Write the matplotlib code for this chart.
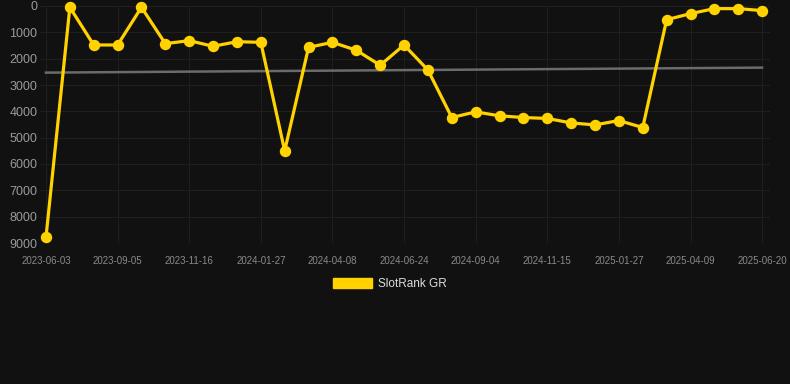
import numpy as np
import matplotlib
matplotlib.use('Agg')
import matplotlib.pyplot as plt
from matplotlib.patches import Patch

##rank values, one per point (lower is better, axis inverted)
rank = [8790, 50, 1480, 1480, 50, 1430, 1315, 1530, 1355, 1380,
        5500, 1570, 1380, 1680, 2250, 1480, 2430, 4235, 4020, 4170,
        4235, 4270, 4440, 4515, 4350, 4615, 520, 290, 100, 100, 175]
##labels shown under every third point
tick_labels = ['2023-06-03', '2023-09-05', '2023-11-16', '2024-01-27',
               '2024-04-08', '2024-06-24', '2024-09-04', '2024-11-15',
               '2025-01-27', '2025-04-09', '2025-06-20']
trend_start = 2530
trend_end = 2340
series_name = 'SlotRank GR'

plt.rcParams['font.family'] = ['Liberation Sans', 'DejaVu Sans']
bg = '#111111'
yellow = '#ffd200'

fig = plt.figure(figsize=(7.9, 3.84), dpi=100, facecolor=bg)
ax = fig.add_axes([40/790, 1 - 243/384, 730/790, 237/384], facecolor=bg)

x = np.arange(len(rank))
ax.plot(x, rank, color=yellow, lw=2.3, marker='o', ms=7.2, clip_on=False, zorder=3)
ax.plot([x[0], x[-1]], [trend_start, trend_end], color='#6b6b6b', lw=1.8, zorder=2)

ax.set_xlim(-0.25, 30.33)
ax.set_ylim(9000, 0)
ax.set_yticks(np.arange(0, 9001, 1000))
ax.set_xticks(x[::3])
ax.set_xticklabels(tick_labels)
ax.tick_params(axis='y', colors='#9a9a9a', labelsize=9, length=0, pad=2)
ax.tick_params(axis='x', colors='#8a8a8a', labelsize=7, length=0, pad=9)
ax.grid(True, color='#1f1f1f', lw=0.8)
for s in ax.spines.values():
    s.set_visible(False)

handle = Patch(facecolor=yellow, edgecolor=yellow)
fig.legend([handle], [series_name], loc='center', bbox_to_anchor=(390/790, 1 - 284/384),
           frameon=False, fontsize=8.5, labelcolor='#dddddd',
           handlelength=3.3, handleheight=0.9, handletextpad=0.5)

fig.savefig('out.png', dpi=100, facecolor=bg)
